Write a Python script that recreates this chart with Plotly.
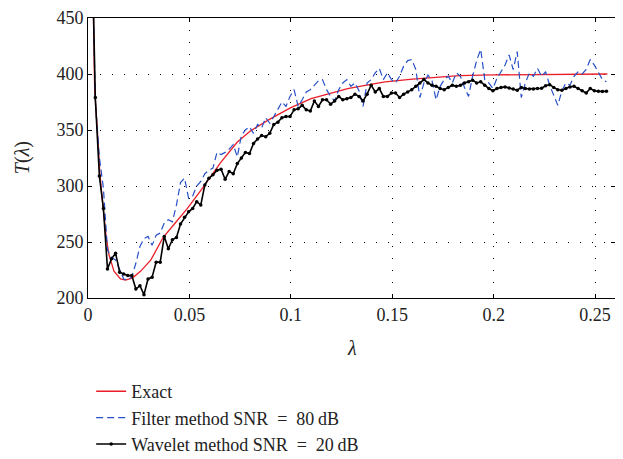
import numpy as np
import plotly.graph_objects as go

# ---- data ----
exact_x = [0.0025, 0.0033, 0.0046, 0.0059, 0.0075, 0.009, 0.0103, 0.0128, 0.016, 0.0185,
           0.022, 0.026, 0.031, 0.037, 0.043, 0.049, 0.056, 0.065, 0.0735, 0.08, 0.089,
           0.1, 0.11, 0.12, 0.128, 0.14, 0.1465, 0.16, 0.183, 0.2, 0.22, 0.256]
exact_y = [470, 385, 350, 310, 279, 254, 239, 224, 217, 216,
           218, 224, 234, 254, 267, 280, 297, 320, 339, 349, 359,
           370, 378, 383, 387, 391, 393, 395.5, 398.6, 399.2, 399.6, 400]

lam = np.round(0.0016 + 0.002 * np.arange(128), 4)

wavelet = [550, 379, 309, 280, 226, 235, 240, 223, 221.5, 220,
           220, 208, 211, 203, 217, 218.5, 232, 232, 255, 244,
           252, 254, 266, 272, 277, 280, 286, 283, 301, 307,
           310, 314, 315, 306, 313, 311, 320, 325, 330, 329,
           338, 342, 345, 344, 347, 355, 357, 361, 362, 362,
           368, 369, 372, 368, 367, 376, 371, 377, 377, 373,
           376, 380, 377, 378, 379, 382, 380, 376, 382, 390,
           384, 387, 380, 380, 383, 383, 379, 382, 384, 386,
           389, 392, 395, 392, 390, 389, 387, 386, 388, 390,
           389, 390, 392, 393, 394.5, 392, 393, 390, 387, 385,
           387, 388, 388.5, 387.5, 386.5, 385.5, 388, 387, 386.7, 386.7,
           387, 387.3, 389.5, 390.5, 388, 386, 385.5, 387, 388.5, 389,
           387, 385, 383, 387, 385, 384.5, 384.3, 384.5]

filt = [550, 375, 326, 298, 243, 236, 234, 226, 217, 216,
        219, 231, 246, 253, 255, 247, 256, 258, 267, 270,
        268, 283, 303, 307, 289, 291, 300, 304, 311, 314,
        316, 330, 328, 330, 333, 337, 326, 345, 350, 353,
        347, 355, 352, 361, 356, 362, 368, 375, 371, 380,
        386, 371, 377, 384, 386, 390, 394, 395, 386, 380,
        376, 386, 392, 395, 389, 392, 385, 371, 392, 395,
        401, 405, 395, 401, 395, 392, 398, 407, 412, 413,
        404, 379, 392, 399, 394, 377, 389, 395, 398, 392,
        401, 398, 388, 380, 398, 412, 422, 395, 392, 387,
        396, 402, 408, 417, 404, 420, 379, 392, 401, 398,
        405, 398, 402, 390, 381, 372, 385, 392, 390, 398,
        402, 400, 404, 413, 408, 401, 395, 393]

x_ticks = [0, 0.05, 0.1, 0.15, 0.2, 0.25]
x_ticklabels = ["0", "0.05", "0.1", "0.15", "0.2", "0.25"]
y_ticks = [200, 250, 300, 350, 400, 450]

FONT = "Liberation Serif"
FS = 18

fig = go.Figure()
fig.add_trace(go.Scatter(x=exact_x, y=exact_y, mode="lines", name="Exact",
                         line=dict(color="rgb(235,30,40)", width=1.3)))
fig.add_trace(go.Scatter(x=lam, y=filt, mode="lines", name="Filter method SNR\u2002=\u200280\u2009dB",
                         line=dict(color="rgb(40,80,200)", width=1.2, dash="7px,4px")))
fig.add_trace(go.Scatter(x=lam, y=wavelet, mode="lines+markers",
                         name="Wavelet method SNR\u2002=\u200220\u2009dB",
                         line=dict(color="black", width=1.6),
                         marker=dict(color="black", size=3.5)))

axis_common = dict(showline=True, linecolor="black", linewidth=1, mirror="allticks",
                   ticks="inside", ticklen=4, tickcolor="black", automargin=False,
                   showgrid=True, gridcolor="black", gridwidth=1, griddash="1px,11px",
                   zeroline=False, tickfont=dict(family=FONT, size=FS, color="#222"))

fig.update_xaxes(range=[0, 0.2598], tickvals=x_ticks, ticktext=x_ticklabels, **axis_common)
fig.update_yaxes(range=[200, 450], tickvals=y_ticks, **axis_common)

# page body has an 8px margin, so the figure is 8px smaller and offset
fig.update_layout(
    width=615, height=451,
    margin=dict(l=80, r=8, t=10, b=161, autoexpand=False),
    plot_bgcolor="white", paper_bgcolor="white",
    showlegend=True,
    legend=dict(x=0.006, y=-0.268, xanchor="left", yanchor="top",
                font=dict(family=FONT, size=18, color="#222"),
                bgcolor="rgba(0,0,0,0)", tracegroupgap=0),
    annotations=[
        dict(text="<i>λ</i>", x=0.5, y=-0.18, xref="paper", yref="paper",
             showarrow=False, font=dict(family=FONT, size=20, color="#222"),
             xanchor="center", yanchor="middle"),
        dict(text="<i>T</i>(<i>λ</i>)", x=-0.125, y=0.5, xref="paper", yref="paper",
             showarrow=False, textangle=-90, font=dict(family=FONT, size=20, color="#222"),
             xanchor="center", yanchor="middle"),
    ],
)

fig.write_html("out.html")
